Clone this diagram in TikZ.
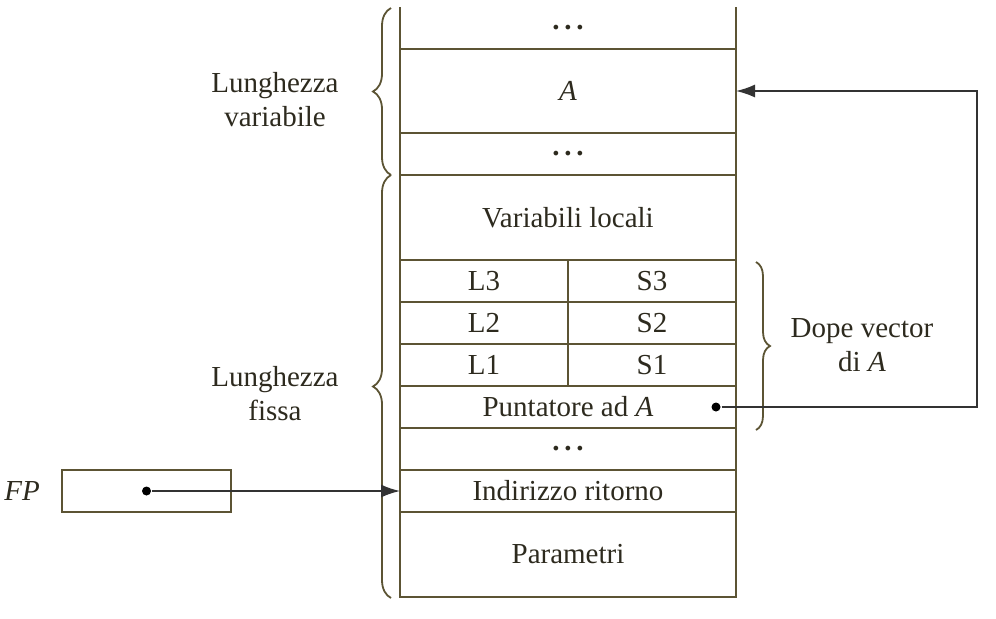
\documentclass[tikz,border=0pt]{standalone}
\usepackage{fontspec}
\setmainfont{Liberation Serif}
\usepackage{tikz}
\usetikzlibrary{arrows.meta,positioning,calc,decorations.pathreplacing}
\definecolor{linea}{RGB}{92,84,52}
\definecolor{testo}{RGB}{45,42,30}
\newcommand{\puntini}{\textbf{.}\hspace{2.4pt}\textbf{.}\hspace{2.4pt}\textbf{.}}

\begin{document}
\begin{tikzpicture}[x=0.5pt,y=-0.5pt, line width=1.1pt, color=linea, text=testo,
    font=\fontsize{14.5}{17}\selectfont,
    cella/.style={draw=linea, minimum width=168pt, minimum height=21pt, inner sep=0pt, outer sep=0pt},
    mezza/.style={cella, minimum width=84pt},
    alta/.style={cella, minimum height=42.5pt},
    graffa/.style={draw=linea, line width=0.9pt, decorate, decoration={brace, amplitude=#1}},
    punto/.style={circle, fill=black, inner sep=0pt, minimum size=4.5pt},
    freccia/.style={draw=black!80, line width=0.8pt, -{Latex[length=9.5pt,width=6.5pt]}}]
    \useasboundingbox (0,0) rectangle (996,618);

    % la pila
    \node [cella, draw=none] (puntini1) at (568,28) {\puntini};
    \draw (puntini1.north west) -- (puntini1.south west) -- (puntini1.south east) -- (puntini1.north east);
    \node [alta, minimum height=42pt] (A) at (568,91) {\textit{A}};
    \node [cella] (puntini2) at (568,154) {\puntini};
    \node [alta] (variabili) at (568,217.5) {Variabili locali};
    \node [mezza] (L3) at (484,281) {L3};
    \node [mezza] (S3) at (652,281) {S3};
    \node [mezza] (L2) at (484,323) {L2};
    \node [mezza] (S2) at (652,323) {S2};
    \node [mezza] (L1) at (484,365) {L1};
    \node [mezza] (S1) at (652,365) {S1};
    \node [cella] (puntatore) at (568,407) {Puntatore ad \textit{A}};
    \node [cella] (puntini3) at (568,449) {\puntini};
    \node [cella] (ritorno) at (568,491) {Indirizzo ritorno};
    \node [alta] (parametri) at (568,554.5) {Parametri};

    % graffe ed etichette
    \draw [graffa=9pt] (391,175) -- (391,8);
    \draw [graffa=9pt] (391,598) -- (391,175);
    \draw [graffa=7pt] (756,262) -- (756,430);
    \node [align=center] (lvar) at (275,100) {Lunghezza\\variabile};
    \node [align=center] (lfissa) at (275,394) {Lunghezza\\fissa};
    \node [align=center] (dope) at (862,345) {Dope vector\\di \textit{A}};

    % frame pointer
    \node [draw=linea, line width=0.9pt, minimum width=84.5pt, minimum height=21pt] (fp) at (146.5,491) {};
    \node (etfp) at (22,491) {\textit{FP}};
    \node [punto] (pfp) at (fp.center) {};
    \draw [freccia] (pfp) -- (ritorno.west);

    % puntatore ad A
    \node [punto] (pA) at (716,407) {};
    \coordinate (svolta) at (977,407);
    \draw [freccia] (pA) -- (svolta) |- (A.east);

\end{tikzpicture}
\end{document}
